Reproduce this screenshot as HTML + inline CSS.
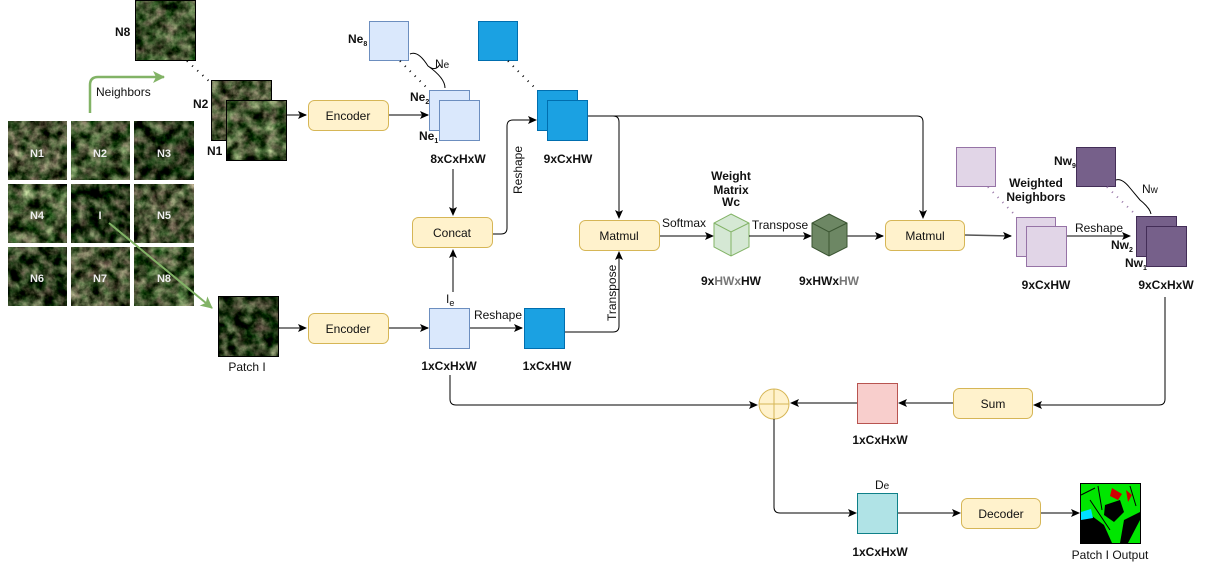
<!DOCTYPE html>
<html><head><meta charset="utf-8"><style>
html,body{margin:0;padding:0;background:#fff;}
svg{display:block;}
text{font-family:"Liberation Sans",sans-serif;font-size:12px;fill:#111;}
.b{font-weight:bold;}
.w{fill:#eee;font-weight:bold;font-size:11px;}
</style></head><body>
<svg width="1209" height="576" viewBox="0 0 1209 576" xmlns="http://www.w3.org/2000/svg">
<defs>
<filter id="sat" x="0" y="0" width="100%" height="100%" color-interpolation-filters="sRGB">
<feTurbulence type="fractalNoise" baseFrequency="0.1" numOctaves="4" seed="4" result="n"/>
<feColorMatrix in="n" type="matrix" values="1.1 0.3 0 0 -0.42  0.9 0.5 0 0 -0.38  0.9 0.3 0 0 -0.4  0 0 0 0 1"/>
</filter>
<filter id="sat2" x="0" y="0" width="100%" height="100%" color-interpolation-filters="sRGB">
<feTurbulence type="fractalNoise" baseFrequency="0.09" numOctaves="4" seed="11" result="n"/>
<feColorMatrix in="n" type="matrix" values="1.1 0.3 0 0 -0.45  0.9 0.55 0 0 -0.4  0.9 0.3 0 0 -0.42  0 0 0 0 1"/>
</filter>
<filter id="sat3" x="0" y="0" width="100%" height="100%" color-interpolation-filters="sRGB">
<feTurbulence type="fractalNoise" baseFrequency="0.09" numOctaves="4" seed="23" result="n"/>
<feColorMatrix in="n" type="matrix" values="1.1 0.3 0 0 -0.55  0.9 0.5 0 0 -0.48  0.9 0.3 0 0 -0.5  0 0 0 0 1"/>
</filter>
<marker id="a" markerWidth="10" markerHeight="10" refX="8" refY="5" orient="auto" markerUnits="userSpaceOnUse">
<path d="M0,1 L9,5 L0,9 L2,5 Z" fill="#000"/></marker>
<marker id="g" markerWidth="14" markerHeight="14" refX="11" refY="7" orient="auto" markerUnits="userSpaceOnUse">
<path d="M0,1 L12,7 L0,13 L3,7 Z" fill="#82b366"/></marker>
</defs>

<!-- grid of tiles -->
<g>
<rect x="8" y="121" width="59" height="59" filter="url(#sat)"/>
<rect x="71" y="121" width="59" height="59" filter="url(#sat2)"/>
<rect x="134" y="121" width="60" height="59" filter="url(#sat3)"/>
<rect x="8" y="184" width="59" height="59" filter="url(#sat2)"/>
<rect x="71" y="184" width="59" height="59" filter="url(#sat3)"/>
<rect x="134" y="184" width="60" height="59" filter="url(#sat)"/>
<rect x="8" y="247" width="59" height="59" filter="url(#sat3)"/>
<rect x="71" y="247" width="59" height="59" filter="url(#sat)"/>
<rect x="134" y="247" width="60" height="59" filter="url(#sat2)"/>
<text class="w" x="37" y="157" text-anchor="middle">N1</text>
<text class="w" x="100" y="157" text-anchor="middle">N2</text>
<text class="w" x="164" y="157" text-anchor="middle">N3</text>
<text class="w" x="37" y="219" text-anchor="middle">N4</text>
<text class="w" x="100" y="219" text-anchor="middle">I</text>
<text class="w" x="164" y="219" text-anchor="middle">N5</text>
<text class="w" x="37" y="282" text-anchor="middle">N6</text>
<text class="w" x="100" y="282" text-anchor="middle">N7</text>
<text class="w" x="164" y="282" text-anchor="middle">N8</text>
</g>

<!-- green arrows -->
<path d="M90,113 L90,85 Q90,77 98,77 L164,77" fill="none" stroke="#82b366" stroke-width="2.5" marker-end="url(#g)"/>
<text x="96" y="96" font-size="11">Neighbors</text>
<path d="M109,223 L212,308" fill="none" stroke="#82b366" stroke-width="2" marker-end="url(#g)"/>

<!-- neighbor images -->
<rect x="135.5" y="0.5" width="60" height="60" filter="url(#sat2)"/>
<rect x="135.5" y="0.5" width="60" height="60" fill="none" stroke="#000"/>
<text class="b" x="115" y="36">N8</text>
<line x1="187" y1="61" x2="210" y2="82" stroke="#000" stroke-width="2" stroke-dasharray="1,6"/>
<rect x="211.5" y="80.5" width="60" height="60" filter="url(#sat)"/>
<rect x="211.5" y="80.5" width="60" height="60" fill="none" stroke="#000"/>
<rect x="226.5" y="100.5" width="60" height="60" filter="url(#sat2)"/>
<rect x="226.5" y="100.5" width="60" height="60" fill="none" stroke="#000"/>
<text class="b" x="193" y="108">N2</text>
<text class="b" x="207" y="155">N1</text>

<!-- patch I -->
<rect x="218.5" y="296.5" width="60" height="60" filter="url(#sat3)"/>
<rect x="218.5" y="296.5" width="60" height="60" fill="none" stroke="#000"/>
<text x="247" y="371" text-anchor="middle">Patch I</text>

<!-- encoders -->
<rect x="308.5" y="100.5" width="80" height="30" rx="6" fill="#fff2cc" stroke="#d6b656"/>
<text x="348" y="120" text-anchor="middle">Encoder</text>
<rect x="308.5" y="313.5" width="80" height="30" rx="6" fill="#fff2cc" stroke="#d6b656"/>
<text x="348" y="333" text-anchor="middle">Encoder</text>
<line x1="287" y1="115" x2="306" y2="115" stroke="#555" stroke-width="1.5" marker-end="url(#a)"/>
<line x1="279" y1="328" x2="306" y2="328" stroke="#000" marker-end="url(#a)"/>
<line x1="389" y1="115" x2="428" y2="115" stroke="#555" stroke-width="1.5" marker-end="url(#a)"/>
<line x1="389" y1="328" x2="428" y2="328" stroke="#555" stroke-width="1.5" marker-end="url(#a)"/>

<!-- Ne stack -->
<rect x="369.5" y="21.5" width="39" height="39" fill="#dae8fc" stroke="#6c8ebf"/>
<line x1="400" y1="61" x2="429" y2="90" stroke="#000" stroke-width="2" stroke-dasharray="1,6"/>
<path d="M410,54 Q418,50 428,66 Q436,72 440,64 M428,66 Q445,78 445,88" fill="none" stroke="#000"/>
<text x="435" y="68" font-size="12">N<tspan font-size="10">e</tspan></text>
<text x="348" y="43" font-size="9" class="b">Ne<tspan font-size="7" dy="3">8</tspan></text>
<rect x="429.5" y="90.5" width="40" height="40" fill="#dae8fc" stroke="#6c8ebf"/>
<rect x="439.5" y="100.5" width="40" height="40" fill="#dae8fc" stroke="#6c8ebf"/>
<text x="410" y="101" font-size="9" class="b">Ne<tspan font-size="7" dy="3">2</tspan></text>
<text x="419" y="140" font-size="9" class="b">Ne<tspan font-size="7" dy="3">1</tspan></text>
<text class="b" x="458" y="163" text-anchor="middle">8xCxHxW</text>

<!-- Concat -->
<rect x="412.5" y="217.5" width="80" height="30" rx="6" fill="#fff2cc" stroke="#d6b656"/>
<text x="452" y="237" text-anchor="middle">Concat</text>
<line x1="453" y1="169" x2="453" y2="215" stroke="#000" marker-end="url(#a)"/>
<line x1="453" y1="292" x2="453" y2="250" stroke="#000" marker-end="url(#a)"/>
<path d="M493,234 L501,234 Q507,234 507,228 L507,126 Q507,120 513,120 L536,120" fill="none" stroke="#000" marker-end="url(#a)"/>
<text x="0" y="0" transform="translate(522,194) rotate(-90)" font-size="11">Reshape</text>

<!-- Ie and reshape -->
<rect x="429.5" y="308.5" width="40" height="40" fill="#dae8fc" stroke="#6c8ebf"/>
<text x="446" y="303" font-size="12">I<tspan font-size="9" dy="3">e</tspan></text>
<line x1="470" y1="328" x2="522" y2="328" stroke="#555" stroke-width="1.5" marker-end="url(#a)"/>
<text x="498" y="319" text-anchor="middle" font-size="11">Reshape</text>
<rect x="524.5" y="308.5" width="40" height="40" fill="#1ba1e2" stroke="#006eaf"/>
<text class="b" x="449" y="370" text-anchor="middle">1xCxHxW</text>
<text class="b" x="547" y="370" text-anchor="middle">1xCxHW</text>

<!-- blue stack -->
<rect x="478.5" y="21.5" width="39" height="39" fill="#1ba1e2" stroke="#006eaf"/>
<line x1="508" y1="61" x2="537" y2="90" stroke="#000" stroke-width="2" stroke-dasharray="1,6"/>
<rect x="537.5" y="90.5" width="40" height="40" fill="#1ba1e2" stroke="#006eaf"/>
<rect x="547.5" y="100.5" width="40" height="40" fill="#1ba1e2" stroke="#006eaf"/>
<text class="b" x="568" y="163" text-anchor="middle">9xCxHW</text>

<!-- connectors to matmuls -->
<path d="M588,116 L613,116 Q619,116 619,122 L619,218" fill="none" stroke="#000" marker-end="url(#a)"/>
<path d="M613,116 L917,116 Q923,116 923,122 L923,218" fill="none" stroke="#000" marker-end="url(#a)"/>
<path d="M565,332 L613,332 Q619,332 619,326 L619,252" fill="none" stroke="#000" marker-end="url(#a)"/>
<text x="0" y="0" transform="translate(616,321) rotate(-90)" font-size="11">Transpose</text>

<!-- Matmul 1 -->
<rect x="579.5" y="220.5" width="80" height="30" rx="6" fill="#fff2cc" stroke="#d6b656"/>
<text x="619" y="240" text-anchor="middle">Matmul</text>
<line x1="660" y1="236" x2="713" y2="236" stroke="#000" marker-end="url(#a)"/>
<text x="684" y="227" text-anchor="middle" font-size="11">Softmax</text>

<!-- light cube -->
<path d="M731,214 L749,223 L749,247 L731,256 L714,247 L714,223 Z" fill="#d5e8d4" stroke="#82b366"/>
<path d="M714,223 L731,232 L749,223 M731,232 L731,256" fill="none" stroke="#82b366"/>
<text class="b" x="731" y="180" text-anchor="middle">Weight</text>
<text class="b" x="731" y="194" text-anchor="middle">Matrix</text>
<text class="b" x="731" y="206" text-anchor="middle" font-size="9">Wc</text>
<line x1="749" y1="236" x2="811" y2="236" stroke="#000" marker-end="url(#a)"/>
<text x="780" y="229" text-anchor="middle" font-size="11">Transpose</text>

<!-- dark cube -->
<path d="M829,214 L847,223 L847,247 L829,256 L812,247 L812,223 Z" fill="#6d8764" stroke="#3a5431"/>
<path d="M812,223 L829,232 L847,223 M829,232 L829,256" fill="none" stroke="#3a5431"/>
<line x1="847" y1="236" x2="883" y2="236" stroke="#555" stroke-width="1.5" marker-end="url(#a)"/>
<text class="b" x="731" y="285" text-anchor="middle">9x<tspan fill="#777">HWx</tspan>HW</text>
<text class="b" x="829" y="285" text-anchor="middle">9xHWx<tspan fill="#777">HW</tspan></text>

<!-- Matmul 2 -->
<rect x="885.5" y="220.5" width="79" height="30" rx="6" fill="#fff2cc" stroke="#d6b656"/>
<text x="925" y="240" text-anchor="middle">Matmul</text>
<line x1="965" y1="235" x2="1011" y2="236" stroke="#555" stroke-width="1.5" marker-end="url(#a)"/>

<!-- weighted neighbors -->
<rect x="956.5" y="147.5" width="39" height="39" fill="#e1d5e7" stroke="#9673a6"/>
<line x1="988" y1="187" x2="1014" y2="214" stroke="#9673a6" stroke-width="2" stroke-dasharray="1,6"/>
<text class="b" x="1036" y="187" text-anchor="middle">Weighted</text>
<text class="b" x="1036" y="201" text-anchor="middle">Neighbors</text>
<rect x="1016.5" y="217.5" width="39" height="39" fill="#e1d5e7" stroke="#9673a6"/>
<rect x="1026.5" y="226.5" width="40" height="40" fill="#e1d5e7" stroke="#9673a6"/>
<text class="b" x="1046" y="289" text-anchor="middle">9xCxHW</text>
<line x1="1067" y1="236" x2="1130" y2="236" stroke="#000" marker-end="url(#a)"/>
<text x="1099" y="232" text-anchor="middle" font-size="11">Reshape</text>

<!-- dark purple -->
<rect x="1076.5" y="147.5" width="39" height="39" fill="#76608a" stroke="#432d57"/>
<line x1="1107" y1="187" x2="1136" y2="215" stroke="#9673a6" stroke-width="2" stroke-dasharray="1,6"/>
<path d="M1116,180 Q1122,178 1130,188 L1140,200 Q1150,208 1151,214" fill="none" stroke="#000"/>
<text x="1142" y="193" font-size="12">N<tspan font-size="10">w</tspan></text>
<text x="1054" y="165" font-size="9" class="b">Nw<tspan font-size="7" dy="3">9</tspan></text>
<rect x="1136.5" y="216.5" width="40" height="40" fill="#76608a" stroke="#432d57"/>
<rect x="1146.5" y="226.5" width="40" height="40" fill="#76608a" stroke="#432d57"/>
<text x="1111" y="249" font-size="9" class="b">Nw<tspan font-size="7" dy="3">2</tspan></text>
<text x="1125" y="267" font-size="9" class="b">Nw<tspan font-size="7" dy="3">1</tspan></text>
<text class="b" x="1166" y="289" text-anchor="middle">9xCxHxW</text>

<!-- sum path -->
<path d="M1165,297 L1165,399 Q1165,405 1159,405 L1034,405" fill="none" stroke="#000" marker-end="url(#a)"/>
<rect x="953.5" y="388.5" width="79" height="30" rx="6" fill="#fff2cc" stroke="#d6b656"/>
<text x="993" y="408" text-anchor="middle">Sum</text>
<line x1="953" y1="403" x2="899" y2="403" stroke="#000" marker-end="url(#a)"/>
<rect x="857.5" y="383.5" width="40" height="40" fill="#f8cecc" stroke="#b85450"/>
<text class="b" x="880" y="444" text-anchor="middle">1xCxHxW</text>
<line x1="857" y1="403" x2="791" y2="403" stroke="#000" marker-end="url(#a)"/>
<circle cx="774" cy="404" r="15" fill="#fff2cc" stroke="#d6b656"/>
<path d="M759,404 L789,404 M774,389 L774,419" stroke="#d6b656"/>
<path d="M450,375 L450,399 Q450,405 456,405 L757,405" fill="none" stroke="#000" marker-end="url(#a)"/>
<path d="M774,419 L774,507 Q774,513 780,513 L856,513" fill="none" stroke="#000" marker-end="url(#a)"/>

<!-- decoder -->
<rect x="857.5" y="493.5" width="40" height="40" fill="#b0e3e6" stroke="#0e8088"/>
<text x="875" y="489" font-size="12">D<tspan font-size="10">e</tspan></text>
<text class="b" x="880" y="556" text-anchor="middle">1xCxHxW</text>
<line x1="898" y1="513" x2="960" y2="513" stroke="#000" marker-end="url(#a)"/>
<rect x="961.5" y="498.5" width="79" height="30" rx="6" fill="#fff2cc" stroke="#d6b656"/>
<text x="1001" y="518" text-anchor="middle">Decoder</text>
<line x1="1041" y1="513" x2="1079" y2="513" stroke="#000" marker-end="url(#a)"/>

<!-- output image -->
<rect x="1080.5" y="483.5" width="60" height="60" fill="#00e600" stroke="#000"/>
<path d="M1081,518 L1092,516 L1104,525 L1112,543 L1081,543 Z" fill="#000"/>
<path d="M1105,505 L1120,500 L1124,512 L1114,522 L1104,515 Z" fill="#000"/>
<path d="M1124,520 L1140,512 L1140,520 L1128,543 L1120,543 Z" fill="#000"/>
<path d="M1081,495 L1095,488 M1090,500 L1110,530 M1098,486 L1102,510 M1130,486 L1136,506" stroke="#000" stroke-width="1"/>
<path d="M1081,512 L1091,509 L1093,518 L1081,520 Z" fill="#00e0ff"/>
<path d="M1112,488 L1122,494 L1118,500 L1110,496 Z" fill="#d00000"/>
<path d="M1126,490 L1132,495 L1128,502 Z" fill="#d00000"/>
<text x="1110" y="559" text-anchor="middle">Patch I Output</text>
</svg>
</body></html>
